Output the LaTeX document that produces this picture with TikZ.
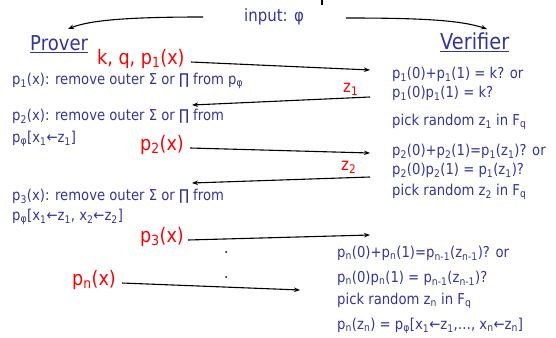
\documentclass[tikz,border=0pt]{standalone}
\usepackage{fontspec}
\setmainfont{DejaVu Sans}[FakeStretch=0.88]
\usetikzlibrary{arrows.meta}
\definecolor{ink}{RGB}{52,52,160}
\definecolor{hot}{RGB}{255,0,0}
\newcommand{\lo}[1]{\textsubscript{#1}}
\tikzset{
  bt/.style={text=ink, font=\fontsize{15}{16}\selectfont, anchor=west, inner sep=0pt, text height=0.75em, text depth=0.25em},
  rt/.style={text=hot, font=\fontsize{20}{22}\selectfont, anchor=west, inner sep=0pt, text height=0.75em, text depth=0.25em},
  zt/.style={rt, font=\fontsize{17}{19}\selectfont},
  ht/.style={bt, font=\fontsize{20.5}{22}\selectfont},
  msg/.style={-{Stealth[length=6pt,width=4.5pt]}, line width=1.1pt},
}
\begin{document}
\begin{tikzpicture}[x=1pt,y=-1pt]
\useasboundingbox (0,0) rectangle (556,337);
% header
\node[bt, anchor=center, font=\fontsize{17}{19}\selectfont] (inp) at (274,19) {input: φ};
\node[ht] (prov) at (30,48) {\underline{Prover}};
\node[ht, font=\fontsize{22}{24}\selectfont] (ver) at (440,47) {\underline{Verifier}};
\draw[line width=2pt] (322,0) -- (322,5);
\coordinate (inL) at (203,17);
\coordinate (inR) at (346,18);
\coordinate (provT) at (68,29);
\coordinate (verT) at (487,29);
\draw[msg] (inL) .. controls (130,17) and (90,20) .. (provT);
\draw[msg] (inR) .. controls (420,18) and (460,20) .. (verT);
% prover side
\node[rt] (kq) at (97,62) {k, q, p\lo{1}(x)};
\node[bt] (l1) at (12,82) {p\lo{1}(x): remove outer Σ or ∏ from p\lo{φ}};
\node[bt] (l2a) at (12,118) {p\lo{2}(x): remove outer Σ or ∏ from};
\node[bt] (l2b) at (12,140) {p\lo{φ}[x\lo{1}←z\lo{1}]};
\node[rt] (p2) at (140,148) {p\lo{2}(x)};
\node[bt] (l3a) at (12,198) {p\lo{3}(x): remove outer Σ or ∏ from};
\node[bt] (l3b) at (12,218) {p\lo{φ}[x\lo{1}←z\lo{1}, x\lo{2}←z\lo{2}]};
\node[rt] (p3) at (140,240) {p\lo{3}(x)};
\node[rt] (pn) at (72,283) {p\lo{n}(x)};
% verifier side
\node[bt] (v1a) at (392,76) {p\lo{1}(0)+p\lo{1}(1) = k? or};
\node[bt] (v1b) at (392,95) {p\lo{1}(0)p\lo{1}(1) = k?};
\node[bt] (v1c) at (392,123) {pick random z\lo{1} in F\lo{q}};
\node[bt] (v2a) at (392,153) {p\lo{2}(0)+p\lo{2}(1)=p\lo{1}(z\lo{1})? or};
\node[bt] (v2b) at (392,172) {p\lo{2}(0)p\lo{2}(1) = p\lo{1}(z\lo{1})?};
\node[bt] (v2c) at (392,193) {pick random z\lo{2} in F\lo{q}};
\node[bt] (vna) at (337,255) {p\lo{n}(0)+p\lo{n}(1)=p\lo{n-1}(z\lo{n-1})? or};
\node[bt] (vnb) at (337,280) {p\lo{n}(0)p\lo{n}(1) = p\lo{n-1}(z\lo{n-1})?};
\node[bt] (vnc) at (337,302) {pick random z\lo{n} in F\lo{q}};
\node[bt] (vnd) at (337,327) {p\lo{n}(z\lo{n}) = p\lo{φ}[x\lo{1}←z\lo{1},…, x\lo{n}←z\lo{n}]};
% z labels
\node[zt] (z1) at (343,90) {z\lo{1}};
\node[zt] (z2) at (341,168) {z\lo{2}};
% messages
\coordinate (a1) at (370,70);
\coordinate (b1s) at (370,97);
\coordinate (b1e) at (192,105);
\coordinate (a2) at (370,153);
\coordinate (b2s) at (370,177);
\coordinate (b2e) at (192,183);
\coordinate (a3) at (370,235);
\coordinate (an) at (300,290);
\draw[msg] ([xshift=6pt]kq.east) -- (a1);
\draw[msg] (b1s) -- (b1e);
\draw[msg] ([xshift=6pt]p2.east) -- (a2);
\draw[msg] (b2s) -- (b2e);
\draw[msg] ([xshift=4pt]p3.east) -- (a3);
\draw[msg] ([xshift=6pt]pn.east) -- (an);
\fill (226,252) circle (1pt);
\fill (226,277) circle (1pt);
\end{tikzpicture}
\end{document}
